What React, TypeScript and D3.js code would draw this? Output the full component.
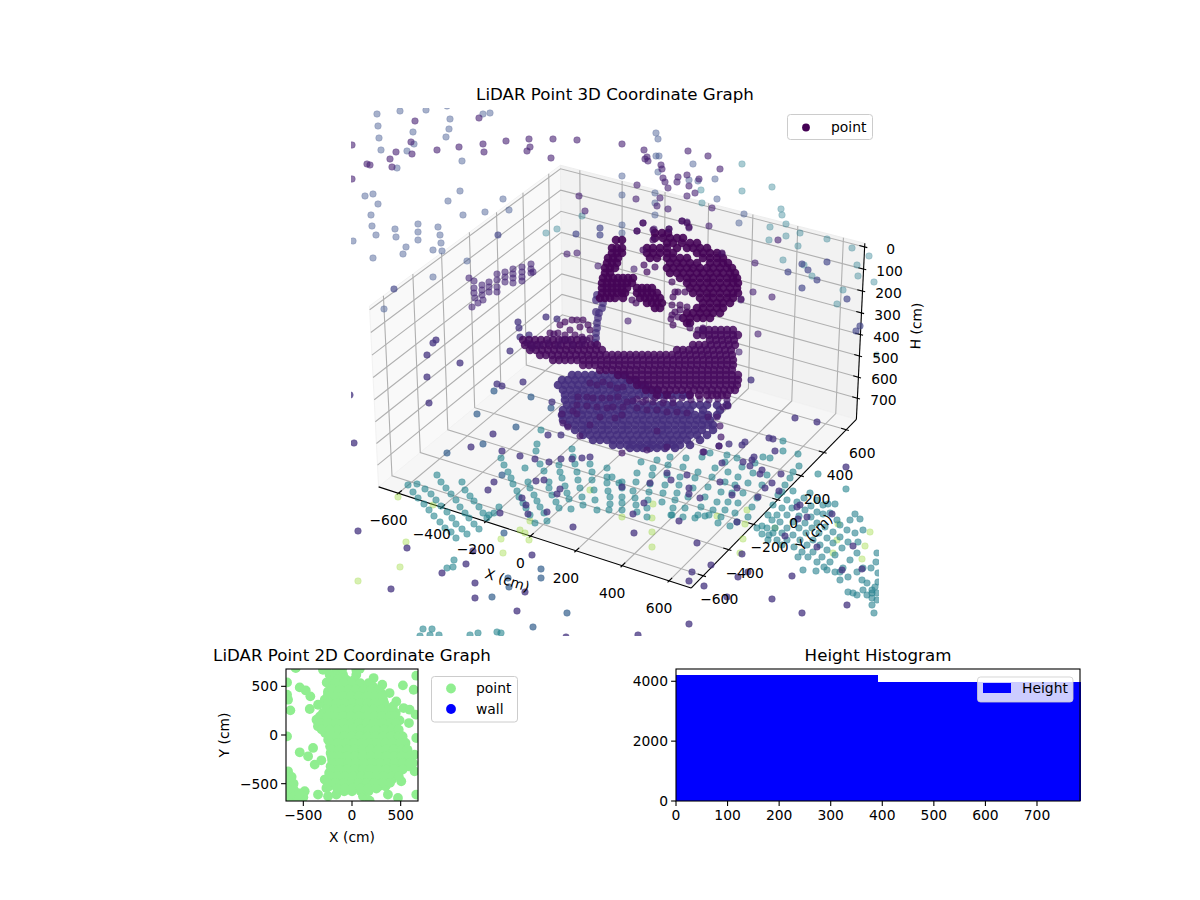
import React from "react";
import * as d3 from "d3";

// ticks and limits
const xTicks3d = [-600, -400, -200, 0, 200, 400, 600];
const yTicks3d = [-600, -400, -200, 0, 200, 400, 600];
const hTicks3d = [0, 100, 200, 300, 400, 500, 600, 700];
const xyLimit = 665;
const hLimit = 785;
const ticks2d = [-500, 0, 500];
const histXTicks = [0, 100, 200, 300, 400, 500, 600, 700];
const histYTicks = [0, 2000, 4000];
const histBins = [0, 392, 785];
const histCounts = [4200, 3960];

// scatter readings: [across, up] on the view plane of the 3D panel
const faintBlue = [[-238,258],[-215,261],[-189,262],[-168,266],[-237,246],[-236,234],[-234,222],[-202,240],[-201,228],[-165,253],[-166,243],[-169,235],[-132,258],[-125,259],[-208,221],[-218,204],[-153,211],[-250,176],[-242,178],[-237,168],[-244,157],[-243,146],[-239,137],[-220,143],[-219,135],[-197,148],[-197,140],[-197,132],[-177,145],[-175,137],[-174,129],[-209,125],[-212,118],[-182,122],[-173,121],[-242,114],[-155,181],[-167,171],[-152,157],[-130,160],[-106,162],[-112,173],[-262,131],[-182,95],[-148,111],[-231,63],[41,239],[43,233],[44,216],[41,216],[78,208],[43,200],[7,196],[74,192],[83,191],[100,193],[40,179],[7,177],[40,169],[102,173],[40,157],[7,147],[7,139],[124,149],[129,158]];
const paleTeal = [[127,208],[157,185],[127,181],[86,182],[87,169],[166,163],[167,157],[155,145],[171,148],[154,132],[171,136],[185,139],[183,126],[212,133],[237,124],[254,116],[168,112],[189,107],[197,96],[242,107],[243,96],[259,90],[228,82],[222,68],[262,17],[-33,156],[-58,143],[-69,139]];
const paleGreen = [[-217,-125],[-182,-133],[-85,-149],[-95,-158],[-90,-161],[-86,-168],[-114,-167],[-112,-181],[-209,-170],[-215,-195],[-257,-209],[-25,-118],[7,-145],[38,-132],[37,-146],[37,-160],[37,-175],[102,-144],[132,-138],[130,-152],[128,-167],[160,-156],[223,-152],[222,-168],[255,-160],[250,-174],[218,-181],[247,-187],[125,-181]];
const upperPurple = [[-200,251],[-136,254],[-204,230],[-219,220],[-203,218],[-225,213],[-178,222],[-156,225],[-132,228],[-131,220],[-109,231],[-86,233],[-85,225],[-88,221],[-62,233],[-38,232],[-64,214],[-248,208],[-245,207],[-223,205],[-263,227],[-263,193],[-36,176],[-30,161],[-48,118],[-38,119],[-17,106],[19,103],[29,222],[32,215],[30,213],[33,211],[73,221],[93,216],[105,203],[46,207],[47,203],[48,194],[50,190],[63,195],[62,190],[72,197],[74,186],[84,193],[53,184],[80,179],[72,176],[45,174],[42,166],[22,187],[21,173],[53,163],[97,164],[28,149],[67,151],[72,150],[74,144],[94,146],[22,141],[39,143],[54,143],[7,228],[107,118],[140,109],[138,80],[157,75],[126,72],[143,38],[13,51],[163,132],[124,20]];
const midBlue = [[187,108],[212,110],[173,100],[193,102],[202,92],[187,84],[232,73],[245,46],[241,41],[-39,138],[-15,144],[-15,137],[-117,137],[-221,83]];
const wallCluster = [[-146,94],[-141,91],[-141,84],[-141,79],[-140,74],[-133,87],[-133,82],[-133,77],[-132,72],[-126,90],[-126,85],[-126,80],[-118,98],[-118,92],[-118,85],[-118,80],[-110,100],[-110,95],[-110,90],[-102,103],[-102,98],[-102,94],[-102,89],[-93,105],[-93,100],[-93,95],[-93,91],[-84,108],[-84,103],[-84,99],[-82,100],[-143,65],[-137,69]];
const floorTeal = [[-207,-113],[-202,-120],[-197,-126],[-191,-132],[-186,-138],[-181,-144],[-175,-150],[-170,-156],[-164,-160],[-159,-166],[-198,-112],[-190,-117],[-184,-122],[-179,-128],[-174,-134],[-168,-140],[-163,-146],[-159,-152],[-153,-157],[-148,-162],[-178,-103],[-174,-110],[-169,-116],[-164,-122],[-159,-128],[-155,-135],[-150,-141],[-146,-146],[-141,-152],[-136,-157],[-153,-110],[-150,-118],[-145,-124],[-141,-129],[-136,-135],[-132,-141],[-128,-146],[-116,-135],[-121,-141],[-126,-143],[-114,-86],[-111,-93],[-107,-100],[-104,-106],[-102,-112],[-98,-119],[-96,-125],[-92,-131],[-89,-136],[-85,-143],[-80,-151],[-78,-72],[-79,-79],[-75,-92],[-71,-99],[-90,-96],[-87,-110],[-85,-116],[-81,-123],[-78,-129],[-75,-135],[-71,-141],[-68,-149],[-74,-58],[-43,-77],[-42,-85],[-56,-93],[-55,-100],[-53,-106],[-50,-114],[-48,-121],[-46,-127],[-44,-137],[-66,-110],[-66,-116],[-63,-123],[-59,-130],[-56,-136],[-40,-92],[-38,-100],[-37,-108],[-35,-116],[-33,-125],[-32,-133],[-25,-92],[-23,-100],[-23,-108],[-21,-118],[-20,-128],[-18,-138],[-8,-96],[-8,-105],[-8,-111],[-7,-119],[-5,-125],[-5,-132],[-6,-138],[-3,-105],[4,-111],[7,-110],[7,-116],[7,-125],[7,-131],[7,-138],[26,-90],[22,-101],[21,-110],[18,-119],[20,-126],[21,-133],[22,-140],[42,-88],[38,-96],[37,-103],[35,-112],[34,-120],[33,-128],[32,-136],[32,-145],[55,-85],[53,-93],[52,-103],[50,-113],[48,-121],[47,-130],[57,-143],[71,-86],[68,-95],[65,-105],[64,-113],[62,-121],[60,-128],[58,-136],[56,-143],[87,-85],[83,-100],[80,-106],[78,-116],[73,-125],[70,-136],[68,-145],[95,-81],[100,-96],[97,-105],[93,-115],[90,-125],[86,-135],[83,-143],[80,-146],[112,-83],[110,-90],[113,-100],[110,-110],[106,-120],[102,-130],[98,-138],[94,-143],[90,-144],[122,-86],[127,-95],[123,-105],[120,-113],[117,-121],[113,-130],[110,-138],[106,-145],[103,-151],[148,-85],[140,-91],[138,-101],[133,-111],[128,-121],[123,-131],[120,-141],[115,-154],[155,-86],[152,-103],[147,-113],[142,-126],[137,-135],[133,-145],[122,-150],[183,-82],[178,-100],[184,-94],[175,-106],[170,-113],[163,-123],[158,-133],[153,-143],[147,-154],[142,-156],[147,-162],[167,-120],[178,-119],[172,-128],[167,-136],[162,-143],[157,-148],[152,-156],[158,-161],[153,-168],[168,-69],[168,-79],[203,-102],[231,-117],[-161,-188],[-168,-196],[-162,-195],[-192,-257],[-183,-257],[-185,-263],[-176,-263],[-195,-264],[-145,-263],[-137,-261],[-118,-260],[-114,-261]];
const outerTeal = [[195,-121],[189,-126],[182,-130],[177,-136],[172,-143],[165,-150],[160,-156],[154,-163],[202,-128],[196,-134],[190,-138],[184,-144],[178,-150],[172,-156],[167,-161],[162,-168],[208,-133],[202,-140],[196,-145],[190,-151],[184,-156],[178,-163],[172,-168],[167,-173],[213,-132],[208,-142],[202,-151],[197,-156],[191,-161],[185,-168],[179,-175],[183,-185],[220,-132],[215,-141],[222,-148],[210,-155],[204,-161],[198,-168],[192,-173],[187,-180],[193,-185],[225,-153],[218,-160],[212,-166],[205,-173],[198,-180],[202,-190],[188,-198],[240,-142],[235,-148],[232,-158],[225,-165],[218,-171],[212,-178],[207,-185],[209,-195],[201,-199],[245,-147],[240,-161],[233,-170],[227,-176],[220,-183],[215,-190],[220,-200],[212,-198],[248,-158],[243,-170],[242,-181],[235,-188],[228,-196],[225,-200],[233,-205],[225,-208],[262,-181],[256,-196],[248,-196],[242,-200],[247,-208],[252,-211],[257,-221],[261,-190],[263,-201],[263,-210],[260,-215],[262,-221],[262,-228],[257,-233],[259,-241],[257,-226],[233,-220],[238,-221],[242,-223],[248,-218],[252,-223],[257,-218]];
const slateBlue = [[-121,-19],[-84,-25],[-138,-42],[-64,-36],[-99,-55],[-132,-72],[-168,-81],[-113,-103],[-107,-206],[-106,-215],[-123,-225],[-111,-161],[-74,-197],[-74,-206],[-48,-241],[-82,-255]];
const darkStray = [[-182,29],[-179,32],[-188,17],[-155,9],[-97,50],[-96,44],[-95,35],[-86,37],[-105,21],[-69,55],[-58,53],[-188,-5],[-265,-23],[-186,-31],[-261,-71],[-118,-12],[-113,-14],[-92,-10],[-63,-30],[-122,-62],[-144,-75],[-113,-79],[-67,-63],[-54,-63],[-80,-87],[-66,-90],[-54,-87],[-43,-87],[-33,-86],[-25,-85],[-121,-110],[-127,-118],[-79,-109],[-71,-108],[-55,-117],[-58,-122],[-93,-126],[-89,-133],[-68,-140],[-87,-142],[-42,-155],[-115,-141],[-257,-159],[-208,-176],[-142,-179],[-83,-183],[-149,-192],[-173,-201],[-140,-211],[-224,-217],[-90,-220],[-140,-226],[-98,-239],[-49,-265],[-95,-84],[136,-8],[180,-46],[202,-50],[154,-66],[158,-67],[130,-70],[127,-73],[160,-79],[89,-80],[104,-74],[114,-72],[128,-90],[137,-88],[139,-85],[135,-94],[107,-91],[72,-103],[52,-101],[56,-108],[147,-98],[145,-102],[166,-102],[105,-110],[74,-116],[74,-122],[85,-126],[35,-111],[7,-115],[29,-131],[18,-142],[64,-149],[19,-161],[82,-171],[122,-116],[117,-123],[143,-125],[150,-116],[157,-111],[164,-119],[122,-150],[183,-147],[192,-145],[185,-133],[182,-135],[217,-142],[170,-164],[202,-175],[238,-174],[247,-197],[227,-198],[127,-182],[96,-193],[77,-200],[74,-209],[89,-214],[123,-205],[133,-200],[177,-204],[112,-225],[157,-227],[232,-233],[187,-241],[74,-252],[23,-263],[231,-95]];
const coreColumn = [[-12,69],[-13,64],[-16,59],[-17,54],[-18,49],[-18,44],[-19,39],[-19,34],[-20,29],[-19,72],[-18,77],[-19,60]];
const bodyBeads = [[-25,-11],[-18,-13],[-12,-10],[-5,-13],[2,-16],[8,-15],[-37,-25],[-28,-25],[-22,-26],[-13,-26],[-5,-26],[3,-25],[12,-30],[18,-29],[28,-30],[38,-30],[48,-31],[58,-31],[-38,-33],[-28,-34],[-18,-35],[-8,-36],[-2,-35],[8,-35],[22,-36],[32,-38],[42,-38],[52,-40],[62,-40],[72,-41],[-42,-39],[-38,-42],[-15,-45],[-25,-53],[0,-46],[7,-43],[42,-59],[-53,-42],[-52,-51],[-47,-55],[-35,-64],[105,-54],[106,-65],[104,-74],[88,-80],[7,-81],[32,-78],[52,-75],[108,-35],[113,-34],[102,-45],[93,-45],[22,-27],[31,-28],[40,-26],[49,-28],[58,-27],[67,-26],[76,-28],[85,-27],[94,-28],[103,-27],[112,-28]];
const coreExtras = [[57,90],[60,80],[63,80],[70,80],[58,75],[57,67],[65,67],[72,65],[65,62],[60,60],[57,57],[56,53],[63,55],[58,47],[75,44],[83,42],[88,44],[28,122],[40,105],[32,100],[29,107],[38,132],[38,142],[74,145],[72,149],[67,151],[54,143],[107,119],[126,73],[22,141],[28,149],[-55,47],[-50,50],[-43,52],[-38,52],[-32,52],[-27,47],[-25,42],[-35,45],[-45,42],[-50,37],[-57,39],[-53,32],[-47,32],[-40,37],[-33,35],[-28,32],[-65,39],[-61,38],[-67,29],[-57,27],[-75,27],[-82,27],[-88,29],[-83,24],[-25,34],[-42,27],[-33,28],[17,72],[21,69]];

// dense parts, one row per level: [up, [across...]]
const upperRows: [number, number[]][] = [
  [132,[1,7]],[124,[-3,2,7]],[119,[-3,2,7]],[114,[-7,-2,3]],[109,[-8,-3,2]],[104,[-10,-5,0]],[99,[-10,-5]],
  [94,[-12,-7,-2,3,8,13,18]],[89,[-13,-8,-3,2,7,12,17]],[84,[-13,-8,-3,2,7,12,22,27,32,37]],[79,[-13,-8,-3,2,7,10,22,27,32,37,42]],[74,[-15,-10,-5,0,8,25,30,35,40,45]],[69,[32,37,42,47]],[64,[40,45]],
  [139,[40,47,53]],[134,[40,48,55,62,68]],[129,[52,58,67,75,82]],[124,[32,38,45,52,62,72,78,85,92]],[119,[32,38,45,52,58,82,88,95,102]],[114,[35,42,52,58,65,72,88,95,102,108]],[109,[55,62,68,75,82,95,102,108,113]],[104,[52,58,65,72,78,85,92,98,105,112,117]],[99,[55,62,68,75,82,88,95,102,108,115,120]],[94,[65,72,78,85,92,98,105,112,118,122]],[89,[72,78,85,92,98,105,112,118,123]],[84,[75,82,88,95,102,108,115,122]],[79,[78,85,92,98,105,112,118,123]],[74,[85,92,98,105,112,118]],[69,[88,95,102,108,115]],[64,[82,88,95,102,108]],[59,[72,78,85,92,98,105]],[54,[68,75,82,88,95]],[49,[72,75]],
];
const ringRows: [number, number[]][] = [
  [42,[88,94,100,106,112,118]],
  [37,[82,88,94,100,106,112,118,123]],
  [32,[-92,-86,-80,-74,-68,-62,-56,-50,-44,-38,-32,95,101,107,113,119]],
  [27,[-90,-84,-78,-72,-66,-60,-54,-48,-42,-36,-30,-24,-18,78,84,90,96,102,108,114,120]],
  [22,[-85,-79,-73,-67,-61,-55,-49,-43,-37,-31,-25,-19,-13,62,68,74,80,86,92,98,104,110,116]],
  [17,[-75,-69,-63,-57,-51,-45,-39,-33,-27,-21,-15,-9,-3,3,9,15,21,27,33,39,45,51,57,63,69,75,81,87,93,99,105,111,117]],
  [12,[-62,-56,-50,-44,-38,-32,-26,-20,-14,-8,-2,4,10,16,22,28,34,40,46,52,58,64,70,76,82,88,94,100,106,112,118]],
  [7,[-32,-26,-20,-14,-8,-2,4,10,16,22,28,34,40,46,52,58,64,70,76,82,88,94,100,106,112,118]],
  [2,[-15,-9,-3,3,9,15,21,27,33,39,45,51,57,63,69,75,81,87,93,99,105,111,117]],
  [-3,[3,9,15,21,27,33,39,45,51,57,63,69,75,81,87,93,99,105,111,117,123]],
  [-8,[15,21,27,33,39,45,51,57,63,69,75,81,87,93,99,105,111,117,123]],
  [-13,[22,27,33,39,45,51,57,63,69,75,81,87,93,99,105,111,117,122]],
  [-18,[31,37,43,49,55,61,67,73,79,85,91,97,103,109,115,120]],
  [-23,[42,52,75,84,92,97,102,107,112]],
];
const bodyRows: [number, number[]][] = [
  [-3,[-43,-37,-30,-23,-17,-10,-3,3,10]],[-8,[-53,-47,-40,-33,-27,-20,-13,-7,0,7,13,20]],[-13,[-57,-50,-43,-37,-30,-23,-17,-10,-3,3,10,17,24,30]],[-18,[-52,-45,-38,-32,-25,-18,-12,-5,2,8,15,22,28,35,42]],[-23,[-50,-43,-37,-30,-23,-17,-10,-3,3,10,17,24,30,37,44,50,56,62,68,74]],[-28,[-50,-43,-37,-30,-23,-17,-10,-3,3,10,17]],
  [-33,[-48,-42,-35,-28,-22,-15,-8,-2,5,12,18,25,32,38,45,52,58,65,72,78,85,92,102,112]],[-38,[-52,-45,-38,-32,-25,-18,-12,-5,2,8,15,22,28,35,42,48,55,62,68,75,88,105]],[-43,[-53,-47,-40,-33,-27,-20,-13,-7,0,7,13,20,27,33,40,47,53,60,67,73,80,87,93,102]],[-48,[-52,-45,-38,-32,-25,-18,-12,-5,2,8,15,22,28,35,42,48,55,62,68,75,82,88,95]],[-53,[-47,-40,-33,-27,-20,-13,-7,0,7,13,20,27,33,40,47,53,60,67,73,80,87,93,98]],[-58,[-40,-33,-27,-20,-13,-7,0,7,13,20,27,33,40,47,53,60,67,73,80,87,98]],[-63,[-32,-25,-18,-12,-5,2,8,15,22,28,35,42,48,55,62,68,75,82,92]],[-68,[-22,-15,-8,-2,5,12,18,25,32,38,45,52,58,65,72,85]],[-73,[-2,5,12,18,25,32,38,45,52,58,65,75]],[-76,[15,22,28,35,42,50,60]],
];

// 2D plot: X, Y in cm
const planEdge = [[-667,540],[-667,414],[-657,363],[-633,253],[-537,489],[-475,458],[-428,397],[-434,267],[-349,311],[-246,448],[-212,602],[-154,602],[-578,687],[222,585],[311,516],[386,431],[455,345],[523,510],[633,465],[660,609],[530,277],[592,260],[653,209],[489,150],[585,123],[660,-31],[643,-202],[626,-287],[643,-373],[506,-475],[660,-612],[-537,-178],[-451,-219],[-400,-133],[-383,-304],[-315,-260],[-195,-321],[-657,-373],[-622,-492],[-571,-595],[-486,-578],[-667,-612],[-588,-657],[-349,-612],[-246,-629],[-161,-612],[369,-612],[472,-646],[181,-674],[-280,-458],[-263,-544],[113,-629],[-667,-14],[-298,670],[44,670],[-161,670],[-92,619],[44,619],[-667,-430],[-640,-540],[-600,-500],[-540,-640],[-500,-640],[-640,-660],[-667,-500],[-260,670],[-230,620],[-100,680],[80,680],[-200,560],[-260,540],[-620,-430],[-600,-560],[-560,-640],[-620,-610],[-667,-560],[-540,-600]];
const planRows: [number, number[]][] = [
  [568,[-144,-60,24]],[499,[-195,-110,-25,60,130,215]],[431,[-246,-160,-80,0,80,160,240,300]],[363,[-280,-195,-110,-25,60,145,230,320]],[294,[-263,-180,-95,-10,75,160,245,330,420]],[226,[-298,-215,-130,-45,40,125,210,295,380,450]],[157,[-365,-280,-195,-110,-25,60,145,230,315,400]],[89,[-350,-265,-180,-95,-10,75,160,245,330,420]],[21,[-275,-190,-105,-20,65,150,235,320,405,480]],[-48,[-245,-160,-75,10,95,180,265,350,435,520]],[-116,[-225,-140,-55,30,115,200,285,370,455,540]],[-185,[-220,-135,-50,35,120,205,290,375,460,560]],[-253,[-205,-120,-35,50,135,220,305,390,475,590]],[-321,[-220,-135,-50,35,120,205,290,375,460,580]],[-390,[-235,-150,-65,20,105,190,275,360,440]],[-458,[-270,-185,-100,-15,70,155,240,325,410]],[-527,[-235,-150,-65,20,105,190,275,345]],[-578,[-80,0,90,170]],
  [533,[-170,-85,0,85,170]],[465,[-200,-120,-40,40,120,200,270]],[397,[-250,-170,-90,-10,70,150,230,310]],[328,[-240,-160,-80,0,80,160,240,330]],[260,[-260,-180,-100,-20,60,140,220,300,380]],[191,[-330,-250,-170,-90,-10,70,150,230,310,390,440]],[123,[-330,-250,-170,-90,-10,70,150,230,310,390,450]],[55,[-310,-230,-150,-70,10,90,170,250,330,410,480]],[-14,[-240,-160,-80,0,80,160,240,320,400,480,520]],[-82,[-220,-140,-60,20,100,180,260,340,420,500,550]],[-150,[-210,-130,-50,30,110,190,270,350,430,510,570]],[-219,[-210,-130,-50,30,110,190,270,350,430,510,590]],[-287,[-200,-120,-40,40,120,200,280,360,440,520,600]],[-355,[-210,-130,-50,30,110,190,270,350,430,520]],[-424,[-230,-150,-70,10,90,170,250,330,410,480]],[-492,[-250,-170,-90,-10,70,150,230,310,390]],[-550,[-150,-70,10,90,170,250]],
];

const fromRows = (rows: [number, number[]][]) => rows.flatMap(([up, xs]) => xs.map((x) => [x, up]));

const layers: { points: number[][]; t: number; alpha: number; r: number; edge?: boolean }[] = [
  { points: faintBlue, t: 0.25, alpha: 0.45, r: 3.3, edge: true },
  { points: paleTeal, t: 0.42, alpha: 0.4, r: 3.3, edge: true },
  { points: paleGreen, t: 0.85, alpha: 0.4, r: 3.3, edge: true },
  { points: upperPurple, t: 0.09, alpha: 0.6, r: 3.3, edge: true },
  { points: midBlue, t: 0.2, alpha: 0.65, r: 3.3, edge: true },
  { points: wallCluster, t: 0.11, alpha: 0.6, r: 3.3, edge: true },
  { points: floorTeal, t: 0.45, alpha: 0.6, r: 3.3, edge: true },
  { points: outerTeal, t: 0.43, alpha: 0.6, r: 3.3, edge: true },
  { points: slateBlue, t: 0.3, alpha: 0.7, r: 3.3, edge: true },
  { points: darkStray, t: 0.15, alpha: 0.75, r: 3.3, edge: true },
  { points: fromRows(bodyRows), t: 0.14, alpha: 0.9, r: 4.3 },
  { points: coreColumn, t: 0.14, alpha: 0.75, r: 3.9 },
  { points: bodyBeads, t: 0.08, alpha: 0.7, r: 3.3, edge: true },
  { points: fromRows(ringRows), t: 0.03, alpha: 0.85, r: 4.2 },
  { points: fromRows(upperRows), t: 0.01, alpha: 0.9, r: 4.3 },
  { points: coreExtras, t: 0.04, alpha: 0.7, r: 3.3, edge: true },
];

// 3D camera, same maths as matplotlib's default view
const elev = (30 * Math.PI) / 180;
const azim = (-60 * Math.PI) / 180;
const dist = 10;
const boxRatio = [1356, 1356, 785];
const boxAspect = boxRatio.map((a) => (a * 1.8294640721620434) / Math.hypot(boxRatio[0], boxRatio[1], boxRatio[2]));
type V3 = number[];
const dot = (a: V3, b: V3) => a[0] * b[0] + a[1] * b[1] + a[2] * b[2];
const norm = (a: V3) => a.map((c) => c / Math.hypot(a[0], a[1], a[2]));
const cross = (a: V3, b: V3) => [a[1] * b[2] - a[2] * b[1], a[2] * b[0] - a[0] * b[2], a[0] * b[1] - a[1] * b[0]];
const viewDir = [Math.cos(elev) * Math.cos(azim), Math.cos(elev) * Math.sin(azim), Math.sin(elev)];
const eye = boxAspect.map((b, i) => b / 2 + dist * viewDir[i]);
const camW = norm(viewDir);
const camU = norm(cross([0, 0, 1], camW));
const camV = cross(camW, camU);

const panel = { left: 351, right: 879, top: 108, bottom: 636 };
const screenX = d3.scaleLinear().domain([-0.095, 0.09]).range([panel.left, panel.right]);
const screenY = d3.scaleLinear().domain([-0.095, 0.09]).range([panel.bottom, panel.top]);
const worldX = d3.scaleLinear().domain([-xyLimit, xyLimit]).range([0, boxAspect[0]]);
const worldY = d3.scaleLinear().domain([-xyLimit, xyLimit]).range([0, boxAspect[1]]);
const worldH = d3.scaleLinear().domain([hLimit, 0]).range([0, boxAspect[2]]);
const viewU = d3.scaleLinear().domain([-264, 264]).range([panel.left, panel.right]);
const viewV = d3.scaleLinear().domain([-264, 264]).range([panel.bottom, panel.top]);

const project = (x: number, y: number, h: number): [number, number] => {
  const p = [worldX(x), worldY(y), worldH(h)];
  const e = p.map((c, i) => c - eye[i]);
  const z = -dot(camW, e);
  return [screenX(dot(camU, e) / z), screenY(dot(camV, e) / z)];
};

const pad = (2 * xyLimit) / 48;
const x0 = -xyLimit - pad;
const x1 = xyLimit + pad;
const hPad = hLimit / 48;
const hBottom = hLimit + hPad;
const hTop = -hPad;
const tickStep = (x1 - x0) / 12;

const path3d = (pts: number[][]) => d3.line()(pts.map(([x, y, h]) => project(x, y, h) as [number, number]))!;
const fmt = (v: number) => String(v).replace("-", "\u2212");
const font = "'DejaVu Sans', sans-serif";

const Axes2dFrame = ({ x, y, w, h }: { x: number; y: number; w: number; h: number }) => (
  <rect x={x} y={y} width={w} height={h} fill="none" stroke="#000" strokeWidth={1.1} />
);

const App = () => {
  // plan view
  const planX = d3.scaleLinear().domain([-678, 678]).range([286, 418]);
  const planY = d3.scaleLinear().domain([-678, 678]).range([801, 669]);
  const planPoints = [...planEdge, ...fromRows(planRows)];
  // histogram
  const histX = d3.scaleLinear().domain([0, 783.4]).range([676, 1080]);
  const histY = d3.scaleLinear().domain([0, 4410]).range([801, 669]);

  return (
    <svg width={1200} height={900} style={{ position: "absolute", left: 0, top: 0 }} fontFamily={font} fontSize={13.89}>
      <defs>
        <clipPath id="panel3d">
          <rect x={panel.left} y={panel.top} width={panel.right - panel.left} height={panel.bottom - panel.top} />
        </clipPath>
        <clipPath id="plan">
          <rect x={286} y={669} width={132} height={132} />
        </clipPath>
      </defs>
      <rect width={1200} height={900} fill="#fff" />

      {/* panes */}
      <path d={path3d([[x0, x0, hBottom], [x0, x1, hBottom], [x0, x1, hTop], [x0, x0, hTop]]) + "Z"} fill="#f9f9f9" stroke="#f2f2f2" />
      <path d={path3d([[x0, x1, hBottom], [x1, x1, hBottom], [x1, x1, hTop], [x0, x1, hTop]]) + "Z"} fill="#f2f2f2" stroke="#eee" />
      <path d={path3d([[x0, x0, hBottom], [x1, x0, hBottom], [x1, x1, hBottom], [x0, x1, hBottom]]) + "Z"} fill="#f6f6f6" stroke="#f2f2f2" />

      {/* grid */}
      <g fill="none" stroke="#b0b0b0" strokeWidth={1.1}>
        {xTicks3d.map((t) => <path key={`gx${t}`} d={path3d([[t, x0, hBottom], [t, x1, hBottom], [t, x1, hTop]])} />)}
        {yTicks3d.map((t) => <path key={`gy${t}`} d={path3d([[x1, t, hBottom], [x0, t, hBottom], [x0, t, hTop]])} />)}
        {hTicks3d.map((t) => <path key={`gh${t}`} d={path3d([[x0, x0, t], [x0, x1, t], [x1, x1, t]])} />)}
      </g>

      {/* axis lines and ticks */}
      <g fill="none" stroke="#000" strokeWidth={1.1}>
        <path d={path3d([[x0, x0, hBottom], [x1, x0, hBottom]])} />
        <path d={path3d([[x1, x0, hBottom], [x1, x1, hBottom]])} />
        <path d={path3d([[x1, x1, hBottom], [x1, x1, hTop]])} />
        {xTicks3d.map((t) => <path key={`tx${t}`} d={path3d([[t, x0 - 0.1 * tickStep, hBottom], [t, x0 + 0.2 * tickStep, hBottom]])} />)}
        {yTicks3d.map((t) => <path key={`ty${t}`} d={path3d([[x1 + 0.1 * tickStep, t, hBottom], [x1 - 0.2 * tickStep, t, hBottom]])} />)}
        {hTicks3d.map((t) => <path key={`th${t}`} d={path3d([[x1 + 0.1 * tickStep, x1, t], [x1 - 0.2 * tickStep, x1, t]])} />)}
      </g>

      {/* points */}
      <g clipPath="url(#panel3d)">
        {layers.map((l, i) => {
          const color = d3.interpolateViridis(l.t);
          return (
            <g key={i} fill={color} fillOpacity={l.alpha} stroke={l.edge ? color : "none"} strokeOpacity={l.alpha * 0.5} strokeWidth={1}>
              {l.points.map(([u, v], j) => <circle key={j} cx={viewU(u)} cy={viewV(v)} r={l.r} />)}
            </g>
          );
        })}
      </g>

      {/* 3D tick labels */}
      <g textAnchor="middle" fill="#000">
        {xTicks3d.map((t) => {
          const [px, py] = project(t, x0, hBottom);
          return <text key={`lx${t}`} x={px - 10} y={py + 32}>{fmt(t)}</text>;
        })}
        {yTicks3d.map((t) => {
          const [px, py] = project(x1, t, hBottom);
          return <text key={`ly${t}`} x={px + 16} y={py + 28}>{fmt(t)}</text>;
        })}
        {hTicks3d.map((t) => {
          const [px, py] = project(x1, x1, t);
          return <text key={`lh${t}`} x={px + 26} y={py + 7}>{fmt(t)}</text>;
        })}
      </g>
      <text transform="translate(507,581) rotate(18)" textAnchor="middle" dominantBaseline="middle">X (cm)</text>
      <text transform="translate(815,533) rotate(-45)" textAnchor="middle" dominantBaseline="middle">Y (cm)</text>
      <text transform="translate(917,326) rotate(-88)" textAnchor="middle" dominantBaseline="middle">H (cm)</text>
      <text x={615} y={100} textAnchor="middle" fontSize={16.67} fill="#000">LiDAR Point 3D Coordinate Graph</text>

      {/* 3D legend */}
      <rect x={787.5} y={114.5} width={85} height={25} rx={3} fill="#fff" fillOpacity={0.8} stroke="#ccc" />
      <circle cx={806} cy={127.5} r={3.9} fill="#440154" />
      <text x={831} y={132} fill="#000">point</text>

      {/* plan view */}
      <g clipPath="url(#plan)" fill="#90ee90">
        {planPoints.map(([x, y], i) => <circle key={i} cx={planX(x)} cy={planY(y)} r={4.9} />)}
      </g>
      <Axes2dFrame x={286} y={669} w={132} h={132} />
      {ticks2d.map((t) => (
        <g key={`p${t}`}>
          <line x1={planX(t)} x2={planX(t)} y1={801} y2={805.9} stroke="#000" strokeWidth={1.1} />
          <text x={planX(t)} y={820} textAnchor="middle" fill="#000">{fmt(t)}</text>
          <line x1={281.1} x2={286} y1={planY(t)} y2={planY(t)} stroke="#000" strokeWidth={1.1} />
          <text x={278} y={planY(t) + 5} textAnchor="end" fill="#000">{fmt(t)}</text>
        </g>
      ))}
      <text x={352} y={661} textAnchor="middle" fontSize={16.67} fill="#000">LiDAR Point 2D Coordinate Graph</text>
      <text x={352} y={842} textAnchor="middle" fill="#000">X (cm)</text>
      <text transform="translate(225,735) rotate(-90)" textAnchor="middle" dominantBaseline="middle" fill="#000">Y (cm)</text>
      <rect x={431.5} y={676.5} width={86} height={45.5} rx={3} fill="#fff" stroke="#ccc" />
      <circle cx={451} cy={688.5} r={4.9} fill="#90ee90" />
      <circle cx={451} cy={709} r={4.9} fill="#0000ff" />
      <text x={476} y={693} fill="#000">point</text>
      <text x={476} y={713.5} fill="#000">wall</text>

      {/* histogram */}
      {histCounts.map((c, i) => (
        <rect key={i} x={histX(histBins[i])} width={histX(histBins[i + 1]) - histX(histBins[i])} y={histY(c)} height={801 - histY(c)} fill="#0000ff" shapeRendering="crispEdges" />
      ))}
      <Axes2dFrame x={676} y={669} w={404} h={132} />
      {histXTicks.map((t) => (
        <g key={`hx${t}`}>
          <line x1={histX(t)} x2={histX(t)} y1={801} y2={805.9} stroke="#000" strokeWidth={1.1} />
          <text x={histX(t)} y={820} textAnchor="middle" fill="#000">{t}</text>
        </g>
      ))}
      {histYTicks.map((t) => (
        <g key={`hy${t}`}>
          <line x1={671.1} x2={676} y1={histY(t)} y2={histY(t)} stroke="#000" strokeWidth={1.1} />
          <text x={668} y={histY(t) + 5} textAnchor="end" fill="#000">{t}</text>
        </g>
      ))}
      <text x={878} y={661} textAnchor="middle" fontSize={16.67} fill="#000">Height Histogram</text>
      <rect x={977.5} y={677} width={95.5} height={25} rx={3} fill="#fff" fillOpacity={0.8} stroke="#ccc" strokeOpacity={0.8} />
      <rect x={983} y={683} width={28} height={10} fill="#0000ff" />
      <text x={1022} y={693} fill="#000">Height</text>
    </svg>
  );
};

export default App;
